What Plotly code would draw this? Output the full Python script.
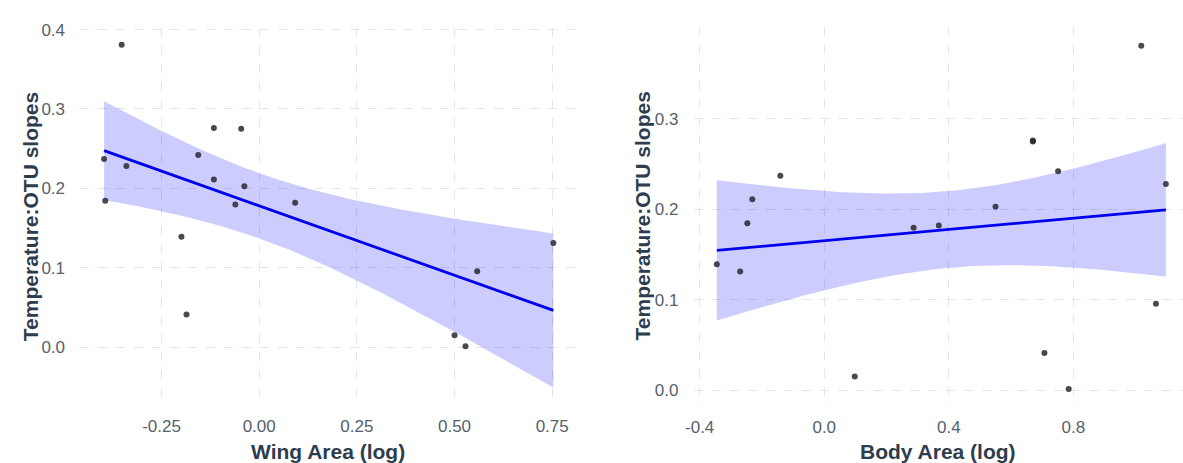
import numpy as np
import plotly.graph_objects as go

# Data (17 species)
slopes = [0.381, 0.237, 0.1845, 0.228, 0.242, 0.276, 0.275, 0.211, 0.2027,
          0.1796, 0.182, 0.139, 0.041, 0.131, 0.0954, 0.0149, 0.0012]
wing_area = [-0.352, -0.397, -0.394, -0.340, -0.156, -0.116, -0.046, -0.116, -0.038,
             -0.061, 0.092, -0.199, -0.186, 0.753, 0.558, 0.500, 0.528]
body_area = [1.018, -0.141, -0.247, 1.097, 0.751, 0.670, 0.670, -0.231, 0.550,
             0.287, 0.368, -0.345, 0.707, -0.270, 1.065, 0.098, 0.785]

x_ticks_wing = [-0.25, 0.00, 0.25, 0.50, 0.75]
x_ticks_body = [-0.4, 0.0, 0.4, 0.8]
y_ticks_left = [0.0, 0.1, 0.2, 0.3, 0.4]
y_ticks_right = [0.0, 0.1, 0.2, 0.3]

# width of the confidence band as drawn in each panel (multiplier on standard error)
band_mult_wing = 2.1314
band_mult_body = 1.72


def lm_fit(x, y, mult, n=80):
    x = np.asarray(x, float)
    y = np.asarray(y, float)
    X = np.column_stack([np.ones_like(x), x])
    beta, *_ = np.linalg.lstsq(X, y, rcond=None)
    resid = y - X @ beta
    dof = len(x) - 2
    s2 = resid @ resid / dof
    cov = s2 * np.linalg.inv(X.T @ X)
    xs = np.linspace(x.min(), x.max(), n)
    Xs = np.column_stack([np.ones_like(xs), xs])
    fit = Xs @ beta
    se = np.sqrt(np.einsum("ij,jk,ik->i", Xs, cov, Xs))
    return xs, fit, fit - mult * se, fit + mult * se


fig = go.Figure()

FAMILY = "Liberation Sans, Arial, sans-serif"
TICK_FONT = dict(family=FAMILY, size=17, color="#56616c")
TITLE_FONT = dict(family=FAMILY, size=21, color="#2e3d4d")
FILL = "rgba(0,0,255,0.2)"
LINE = "#0000ee"
PT = "rgba(40,40,48,0.85)"

for xdata, mult, xa, ya in [(wing_area, band_mult_wing, "x", "y"),
                            (body_area, band_mult_body, "x2", "y2")]:
    xs, fit, lo, hi = lm_fit(xdata, slopes, mult)
    fig.add_trace(go.Scatter(x=np.concatenate([xs, xs[::-1]]),
                             y=np.concatenate([hi, lo[::-1]]),
                             fill="toself", fillcolor=FILL, line=dict(width=0),
                             mode="lines", hoverinfo="skip", showlegend=False,
                             xaxis=xa, yaxis=ya))
    fig.add_trace(go.Scatter(x=xdata, y=slopes, mode="markers",
                             marker=dict(size=6, color=PT),
                             showlegend=False, xaxis=xa, yaxis=ya))
    fig.add_trace(go.Scatter(x=xs, y=fit, mode="lines",
                             line=dict(color=LINE, width=2.8),
                             showlegend=False, xaxis=xa, yaxis=ya))

grid = dict(showgrid=True, gridcolor="#e6e6e6", griddash="dash", gridwidth=1,
            zeroline=False, showline=False, ticks="outside",
            tickcolor="rgba(0,0,0,0)", tickfont=TICK_FONT)

fig.update_layout(
    width=1183, height=463,
    margin=dict(l=0, r=0, t=0, b=0),
    paper_bgcolor="white", plot_bgcolor="white",
    xaxis=dict(domain=[72 / 1183, 570 / 1183], range=[-0.4575, 0.8075],
               tickvals=x_ticks_wing, ticktext=["-0.25", "0.00", "0.25", "0.50", "0.75"],
               anchor="y", ticklen=6, **grid),
    yaxis=dict(domain=[1 - 404 / 463, 1 - 20.7 / 463], range=[-0.073, 0.4016],
               tickvals=y_ticks_left, ticktext=["0.0", "0.1", "0.2", "0.3", "0.4"],
               anchor="x", ticklen=11, **grid),
    xaxis2=dict(domain=[690 / 1183, 1.0], range=[-0.419, 1.152],
                tickvals=x_ticks_body, ticktext=["-0.4", "0.0", "0.4", "0.8"],
                anchor="y2", ticklen=6, **grid),
    yaxis2=dict(domain=[1 - 405 / 463, 1 - 19 / 463], range=[-0.0177, 0.402],
                tickvals=y_ticks_right, ticktext=["0.0", "0.1", "0.2", "0.3"],
                anchor="x2", ticklen=11, **grid),
)

titles = [
    ("<b>Wing Area (log)</b>", 321, 451, 0),
    ("<b>Body Area (log)</b>", 936, 451, 0),
    ("<b>Temperature:OTU slopes</b>", 22, 212, -90),
    ("<b>Temperature:OTU slopes</b>", 638, 212, -90),
]
for text, px, py, ang in titles:
    fig.add_annotation(text=text, x=px / 1183, y=1 - py / 463, xref="paper", yref="paper",
                       xanchor="center", yanchor="middle", showarrow=False,
                       textangle=ang, font=TITLE_FONT)

fig.write_html("out.html")
